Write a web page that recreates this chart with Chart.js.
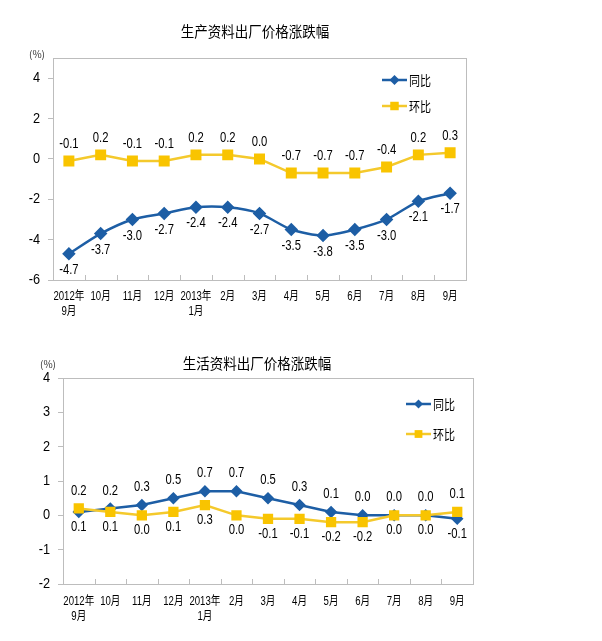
<!DOCTYPE html>
<html>
<head>
<meta charset="utf-8">
<script src="https://cdn.jsdelivr.net/npm/chart.js@4"></script>
<style>
body { margin: 0; background: #fff; width: 602px; height: 641px; position: relative; overflow: hidden; font-family: 'Noto Sans CJK SC', sans-serif; }
.box { position: absolute; left: 0; width: 602px; }
.title { position: absolute; font-size: 15px; color: #000; white-space: nowrap; transform: translateX(-50%) scaleX(0.9); }
.unit { position: absolute; font-size: 10px; color: #333; white-space: nowrap; }
</style>
</head>
<body>
<div class="box" style="top:0;height:330px"><canvas id="prodChart"></canvas></div>
<div class="box" style="top:330px;height:311px"><canvas id="lifeChart"></canvas></div>
<div class="title" style="left:255px;top:20px">生产资料出厂价格涨跌幅</div>
<div class="title" style="left:257px;top:352px">生活资料出厂价格涨跌幅</div>
<div class="unit" style="left:29px;top:46px">(%)</div>
<div class="unit" style="left:40px;top:356px">(%)</div>
<script>
const categories = [['2012年', '9月'], '10月', '11月', '12月', ['2013年', '1月'], '2月', '3月', '4月', '5月', '6月', '7月', '8月', '9月'];
const seriesNames = ['同比', '环比'];

// 生产资料
const prodYoY = [-4.7, -3.7, -3.0, -2.7, -2.4, -2.4, -2.7, -3.5, -3.8, -3.5, -3.0, -2.1, -1.7];
const prodMoM = [-0.1, 0.2, -0.1, -0.1, 0.2, 0.2, 0.0, -0.7, -0.7, -0.7, -0.4, 0.2, 0.3];
const prodTicks = [-6, -4, -2, 0, 2, 4];

// 生活资料
const lifeYoY = [0.1, 0.2, 0.3, 0.5, 0.7, 0.7, 0.5, 0.3, 0.1, 0.0, 0.0, 0.0, -0.1];
const lifeMoM = [0.2, 0.1, 0.0, 0.1, 0.3, 0.0, -0.1, -0.1, -0.2, -0.2, 0.0, 0.0, 0.1];
const lifeTicks = [-2, -1, 0, 1, 2, 3, 4];

const BLUE = '#1D5EA5';
const YELLOW = '#F4C92C';
const YELLOW_PT = '#F9C400';
const NUM_FONT = "'Liberation Sans', Arial, 'Noto Sans CJK SC', sans-serif";

// the source image is squeezed sideways, so text is drawn narrower
function narrowText(ctx, text, x, y, sx) {
    ctx.save();
    ctx.translate(x, y);
    ctx.scale(sx, 1);
    ctx.fillText(text, 0, 0);
    ctx.restore();
}

function drawMarker(ctx, style, r, x, y, color) {
    ctx.fillStyle = color;
    ctx.beginPath();
    if (style === 'rectRot') {
        ctx.moveTo(x, y - r); ctx.lineTo(x + r, y); ctx.lineTo(x, y + r); ctx.lineTo(x - r, y);
    } else {
        const s = r * Math.SQRT1_2;
        ctx.rect(x - s, y - s, s * 2, s * 2);
    }
    ctx.closePath();
    ctx.fill();
}

const decorPlugin = {
    id: 'decor',
    beforeDatasetsDraw(chart, args, opts) {
        const { ctx, chartArea: a } = chart;
        const x = chart.scales.x;
        const y = chart.scales.y;
        ctx.save();
        ctx.strokeStyle = '#BDBDBD';
        ctx.lineWidth = 1;
        ctx.strokeRect(Math.round(a.left) + 0.5, Math.round(a.top) + 0.5, Math.round(a.right - a.left), Math.round(a.bottom - a.top));
        // small ticks between categories
        for (let i = 1; i < chart.data.labels.length; i++) {
            const px = Math.round((x.getPixelForValue(i - 1) + x.getPixelForValue(i)) / 2) + 0.5;
            ctx.beginPath();
            ctx.moveTo(px, a.bottom);
            ctx.lineTo(px, a.bottom - 5);
            ctx.stroke();
        }
        // category labels
        ctx.fillStyle = '#000';
        ctx.textAlign = 'center';
        ctx.textBaseline = 'middle';
        ctx.font = "12px 'Liberation Sans', 'Noto Sans CJK SC', sans-serif";
        chart.data.labels.forEach((lab, i) => {
            const lines = Array.isArray(lab) ? lab : [lab];
            lines.forEach((t, j) => narrowText(ctx, t, x.getPixelForValue(i), a.bottom + opts.xGap + j * 15, 0.8));
        });
        // value axis labels
        ctx.textAlign = 'right';
        ctx.font = '15px ' + NUM_FONT;
        y.ticks.forEach(t => narrowText(ctx, String(t.value), a.left - opts.yGap, y.getPixelForValue(t.value), 0.85));
        ctx.restore();
    },
    afterDatasetsDraw(chart, args, opts) {
        const { ctx, chartArea: a } = chart;
        const ds = chart.data.datasets;
        ctx.save();
        ctx.font = '15px ' + NUM_FONT;
        ctx.fillStyle = '#000';
        ctx.textAlign = 'center';
        ctx.textBaseline = 'middle';
        const m0 = chart.getDatasetMeta(0).data;
        const m1 = chart.getDatasetMeta(1).data;
        for (let i = 0; i < ds[0].data.length; i++) {
            const v0 = ds[0].data[i], v1 = ds[1].data[i];
            const up = v0 >= v1 ? 0 : 1;
            const pts = [m0[i], m1[i]];
            const vals = [v0, v1];
            [0, 1].forEach(k => {
                const dy = k === up ? -opts.above : opts.below;
                narrowText(ctx, vals[k].toFixed(1), pts[k].x, pts[k].y + dy, 0.75);
            });
        }
        // legend
        const lg = opts.legend;
        ds.forEach((d, k) => {
            const ly = a.top + lg.top + k * lg.gap;
            const lx = a.right - lg.right;
            ctx.strokeStyle = d.borderColor;
            ctx.lineWidth = 2.5;
            ctx.beginPath();
            ctx.moveTo(lx, ly);
            ctx.lineTo(lx + 25, ly);
            ctx.stroke();
            drawMarker(ctx, d.pointStyle, d.pointRadius, lx + 12.5, ly, d.pointBackgroundColor);
            ctx.fillStyle = '#000';
            ctx.textAlign = 'left';
            ctx.font = "13px 'Noto Sans CJK SC', sans-serif";
            narrowText(ctx, d.label, lx + 27, ly, 0.85);
        });
        ctx.restore();
    }
};

function makeChart(id, yoy, mom, ticks, cfg) {
    return new Chart(document.getElementById(id), {
        type: 'line',
        data: {
            labels: categories,
            datasets: [
                {
                    label: seriesNames[0],
                    data: yoy,
                    borderColor: BLUE,
                    backgroundColor: BLUE,
                    pointBackgroundColor: BLUE,
                    pointBorderColor: BLUE,
                    pointStyle: 'rectRot',
                    pointRadius: cfg.diamond,
                    borderWidth: 2.5,
                    tension: cfg.tension,
                    order: 1,
                },
                {
                    label: seriesNames[1],
                    data: mom,
                    borderColor: YELLOW,
                    backgroundColor: YELLOW_PT,
                    pointBackgroundColor: YELLOW_PT,
                    pointBorderColor: YELLOW_PT,
                    pointStyle: 'rect',
                    pointRadius: cfg.square,
                    borderWidth: 2.5,
                    tension: 0,
                    order: 0,
                },
            ],
        },
        options: {
            responsive: true,
            maintainAspectRatio: false,
            animation: false,
            layout: { padding: { top: cfg.top, right: cfg.right, left: 0, bottom: 0 } },
            plugins: {
                legend: { display: false },
                tooltip: { enabled: false },
                decor: { above: cfg.above, below: cfg.below, legend: cfg.legend, xGap: cfg.xGap, yGap: cfg.yGap },
            },
            scales: {
                x: {
                    offset: true,
                    grid: { display: false },
                    border: { display: false },
                    ticks: { display: false },
                    afterFit(s) { s.height = cfg.xHeight; },
                },
                y: {
                    min: cfg.min,
                    max: cfg.max,
                    afterBuildTicks(s) { s.ticks = ticks.map(v => ({ value: v })); },
                    grid: { drawOnChartArea: false, tickLength: 5, color: '#BDBDBD' },
                    border: { display: false },
                    ticks: { display: false },
                    afterFit(s) { s.width = cfg.yWidth; },
                },
            },
        },
        plugins: [decorPlugin],
    });
}

makeChart('prodChart', prodYoY, prodMoM, prodTicks, {
    min: -6, max: 5, top: 58, right: 136, yWidth: 53, xHeight: 50, xGap: 17, yGap: 13,
    tension: 0.25, diamond: 5, square: 6, above: 17, below: 16,
    legend: { right: 84, top: 22, gap: 26 },
});

makeChart('lifeChart', lifeYoY, lifeMoM, lifeTicks, {
    min: -2, max: 4, top: 48, right: 129, yWidth: 63, xHeight: 57, xGap: 18, yGap: 13,
    tension: 0, diamond: 4.5, square: 5.5, above: 18, below: 15,
    legend: { right: 67, top: 26, gap: 30 },
});
</script>
</body>
</html>
